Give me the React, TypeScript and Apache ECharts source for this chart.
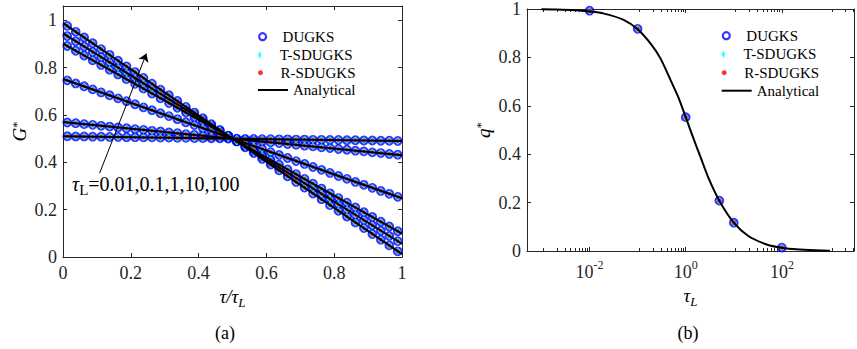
import React, { useEffect, useRef } from 'react';
import * as echarts from 'echarts';

const FONT = 'Liberation Serif';
const AXIS = '#262626';

// ---- panel (a): G* vs tau/tauL ----
const xCells = [0.0125, 0.0375, 0.0625, 0.0875, 0.1125, 0.1375, 0.1625, 0.1875, 0.2125, 0.2375, 0.2625, 0.2875, 0.3125, 0.3375, 0.3625, 0.3875, 0.4125, 0.4375, 0.4625, 0.4875, 0.5125, 0.5375, 0.5625, 0.5875, 0.6125, 0.6375, 0.6625, 0.6875, 0.7125, 0.7375, 0.7625, 0.7875, 0.8125, 0.8375, 0.8625, 0.8875, 0.9125, 0.9375, 0.9625, 0.9875];

const gTau100 = [0.976, 0.951, 0.927, 0.903, 0.878, 0.854, 0.829, 0.805, 0.781, 0.756, 0.732, 0.707, 0.683, 0.659, 0.634, 0.610, 0.586, 0.561, 0.537, 0.512, 0.488, 0.463, 0.439, 0.414, 0.390, 0.366, 0.341, 0.317, 0.293, 0.268, 0.244, 0.219, 0.195, 0.171, 0.146, 0.122, 0.097, 0.073, 0.049, 0.024];
const gTau10 = [0.933, 0.911, 0.889, 0.866, 0.844, 0.822, 0.800, 0.778, 0.755, 0.733, 0.711, 0.689, 0.667, 0.644, 0.622, 0.600, 0.578, 0.556, 0.533, 0.511, 0.489, 0.467, 0.444, 0.422, 0.400, 0.378, 0.356, 0.333, 0.311, 0.289, 0.267, 0.245, 0.222, 0.200, 0.178, 0.156, 0.134, 0.111, 0.089, 0.067];
const gTau5 = [0.891, 0.871, 0.851, 0.831, 0.811, 0.791, 0.771, 0.751, 0.731, 0.711, 0.690, 0.670, 0.650, 0.630, 0.610, 0.590, 0.570, 0.550, 0.530, 0.510, 0.490, 0.470, 0.450, 0.430, 0.410, 0.390, 0.370, 0.350, 0.330, 0.310, 0.289, 0.269, 0.249, 0.229, 0.209, 0.189, 0.169, 0.149, 0.129, 0.109];
const gTau1 = [0.746, 0.733, 0.721, 0.708, 0.695, 0.683, 0.670, 0.658, 0.645, 0.632, 0.620, 0.607, 0.595, 0.582, 0.569, 0.557, 0.544, 0.532, 0.519, 0.506, 0.494, 0.481, 0.468, 0.456, 0.443, 0.431, 0.418, 0.405, 0.393, 0.380, 0.368, 0.355, 0.342, 0.330, 0.317, 0.305, 0.292, 0.279, 0.267, 0.254];
const gTau01 = [0.568, 0.565, 0.561, 0.558, 0.554, 0.551, 0.547, 0.544, 0.540, 0.537, 0.533, 0.530, 0.526, 0.523, 0.519, 0.516, 0.512, 0.509, 0.505, 0.502, 0.498, 0.495, 0.491, 0.488, 0.484, 0.481, 0.477, 0.474, 0.470, 0.467, 0.463, 0.460, 0.456, 0.453, 0.449, 0.446, 0.442, 0.439, 0.435, 0.432];
const gTau001 = [0.510, 0.509, 0.509, 0.508, 0.508, 0.507, 0.507, 0.506, 0.506, 0.505, 0.505, 0.504, 0.504, 0.503, 0.503, 0.502, 0.502, 0.501, 0.501, 0.500, 0.500, 0.499, 0.499, 0.498, 0.498, 0.497, 0.497, 0.496, 0.496, 0.495, 0.495, 0.494, 0.494, 0.493, 0.493, 0.492, 0.492, 0.491, 0.491, 0.490];
const gLines = [gTau100, gTau10, gTau5, gTau1, gTau01, gTau001];

const analyticX = [0, 1];
const analyticStart = [0.988, 0.944, 0.901, 0.752, 0.570, 0.510];
const analyticEnd = [0.012, 0.056, 0.099, 0.248, 0.430, 0.490];

// ---- panel (b): q* vs tauL ----
const tauPts = [0.01, 0.1, 1, 5, 10, 100];
const qPts = [0.993, 0.918, 0.553, 0.208, 0.117, 0.014];
const tauCurve = [0.001, 0.002, 0.005, 0.01, 0.02, 0.05, 0.1, 0.2, 0.3, 0.5, 0.7, 1, 1.5, 2, 3, 5, 10, 20, 50, 100, 200, 500, 1000];
const qCurve = [0.999, 0.998, 0.995, 0.990, 0.981, 0.956, 0.916, 0.849, 0.795, 0.700, 0.636, 0.553, 0.457, 0.392, 0.300, 0.208, 0.117, 0.062, 0.026, 0.0135, 0.0068, 0.0028, 0.0014];

const BLUE = '#0000ff';
const CYAN = '#00ffff';
const RED = '#ff0000';
const DIAMOND = 'path://M2,0L4,4.5L2,9L0,4.5Z';

export default function App() {
  const ref = useRef<HTMLDivElement>(null);
  useEffect(() => {
    document.body.style.margin = '0';
    const chart = echarts.init(ref.current!, null, { renderer: 'svg' });

    const tickLabel = { color: AXIS, fontFamily: FONT, fontSize: 18 };
    const axisLine = { show: true, onZero: false, lineStyle: { color: AXIS, width: 1 } };
    const axisTick = { show: true, inside: true, length: 4, lineStyle: { color: AXIS, width: 1 } };
    const nameRich = {
      i: { fontFamily: FONT, fontSize: 19, fontStyle: 'italic', color: '#000', lineHeight: 22, verticalAlign: 'top' },
      s: { fontFamily: FONT, fontSize: 13, fontStyle: 'italic', color: '#000', lineHeight: 14, verticalAlign: 'bottom' },
      u: { fontFamily: FONT, fontSize: 13, color: '#000', lineHeight: 14, verticalAlign: 'top' },
    };
    const fmtLin = (v: number) =>
      Math.abs(v * 5 - Math.round(v * 5)) < 1e-6 ? String(Math.round(v * 10) / 10) : '';
    const fmtLog = (v: number) => {
      const e = Math.log10(v);
      const r = Math.round(e);
      if (Math.abs(e - r) > 1e-6 || r % 2 !== 0) return '';
      return `{b|10}{s|${r}}`;
    };

    const leftScatter = (arrs: number[][]) =>
      arrs.flatMap((arr) => arr.map((y, i) => [xCells[i], y]));

    const mkLegend = (name: string, left: number, yc: number, icon: string, itemStyle: any, itemHeight: number) => ({
      data: [{ name, icon, itemStyle }],
      left,
      top: yc - 8,
      orient: 'vertical',
      itemWidth: 30,
      itemHeight,
      padding: 0,
      selectedMode: false,
      symbolKeepAspect: true,
      textStyle: { fontFamily: FONT, fontSize: 15, color: '#000', lineHeight: 16 },
    });
    const legendSet = (left: number, ys: number[]) => [
      mkLegend('DUGKS', left, ys[0], 'circle', { color: 'transparent', borderColor: BLUE, borderWidth: 2.2 }, 7),
      mkLegend('T-SDUGKS', left, ys[1], DIAMOND, { color: CYAN, borderWidth: 0 }, 8),
      mkLegend('R-SDUGKS', left, ys[2], 'circle', { color: RED, borderWidth: 0 }, 5),
      mkLegend('Analytical', left, ys[3], 'rect', { color: '#000', borderWidth: 0 }, 2),
    ];

    const analyticSeries = gLines.map((_, k) => ({
      type: 'line',
      name: 'Analytical',
      xAxisIndex: 0,
      yAxisIndex: 0,
      data: analyticX.map((x, j) => [x, j === 0 ? analyticStart[k] : analyticEnd[k]]),
      symbol: 'none',
      lineStyle: { color: '#000', width: 2 },
      itemStyle: { color: '#000' },
      z: 5,
      silent: true,
      ...(k === 0
        ? {
            markLine: {
              silent: true,
              symbol: ['none', 'arrow'],
              symbolSize: 8,
              label: { show: false },
              lineStyle: { color: '#000', width: 1, type: 'solid' },
              emphasis: { disabled: true },
              data: [[{ coord: [0.108, 0.354] }, { coord: [0.246, 0.859] }]],
            },
          }
        : {}),
    }));

    const option: any = {
      animation: false,
      backgroundColor: '#fff',
      textStyle: { fontFamily: FONT },
      grid: [
        { left: 63, top: 6, width: 339, height: 251 },
        { left: 527, top: 7, width: 329, height: 244 },
      ],
      legend: [
        ...legendSet(258, [36.7, 55, 72.7, 90]),
        ...legendSet(721.7, [35.7, 54.3, 72.7, 90.7]),
      ],
      xAxis: [
        {
          type: 'value', gridIndex: 0, min: 0, max: 1, interval: 0.2, position: 'bottom',
          axisLine, axisTick, splitLine: { show: false },
          axisLabel: { ...tickLabel, margin: 7, formatter: fmtLin },
          name: '{i|τ/τ}{s|L}', nameLocation: 'middle', nameGap: 30,
          nameTextStyle: { rich: nameRich },
        },
        {
          type: 'value', gridIndex: 0, min: 0, max: 1, interval: 0.2, position: 'top',
          axisLine, axisTick, splitLine: { show: false }, axisLabel: { show: false },
        },
        {
          type: 'log', logBase: 100, gridIndex: 1, min: 5e-4, max: 3162, position: 'bottom',
          axisLine, axisTick, splitLine: { show: false },
          minorTick: { show: true, splitNumber: 10, length: 3, lineStyle: { color: AXIS } },
          axisLabel: {
            ...tickLabel, margin: 8, formatter: fmtLog,
            rich: {
              b: { fontFamily: FONT, fontSize: 18, color: AXIS, lineHeight: 22, verticalAlign: 'bottom' },
              s: { fontFamily: FONT, fontSize: 12, color: AXIS, lineHeight: 12, verticalAlign: 'top' },
            },
          },
          name: '{i|τ}{s|L}', nameLocation: 'middle', nameGap: 33,
          nameTextStyle: { rich: nameRich },
        },
        {
          type: 'log', logBase: 100, gridIndex: 1, min: 5e-4, max: 3162, position: 'top',
          axisLine, axisTick, splitLine: { show: false }, axisLabel: { show: false },
          minorTick: { show: true, splitNumber: 10, length: 3, lineStyle: { color: AXIS } },
        },
      ],
      yAxis: [
        {
          type: 'value', gridIndex: 0, min: 0, max: 1.06, interval: 0.2, position: 'left',
          axisLine, axisTick, splitLine: { show: false },
          axisLabel: { ...tickLabel, margin: 6, formatter: fmtLin },
          name: '{i|G}{u|*}', nameLocation: 'middle', nameGap: 31, nameRotate: 90,
          nameTextStyle: { rich: nameRich },
        },
        {
          type: 'value', gridIndex: 0, min: 0, max: 1.06, interval: 0.2, position: 'right',
          axisLine, axisTick, splitLine: { show: false }, axisLabel: { show: false },
        },
        {
          type: 'value', gridIndex: 1, min: 0, max: 1, interval: 0.2, position: 'left',
          axisLine, axisTick, splitLine: { show: false },
          axisLabel: { ...tickLabel, margin: 6, formatter: fmtLin },
          name: '{i|q}{u|*}', nameLocation: 'middle', nameGap: 31, nameRotate: 90,
          nameTextStyle: { rich: nameRich },
        },
        {
          type: 'value', gridIndex: 1, min: 0, max: 1, interval: 0.2, position: 'right',
          axisLine, axisTick, splitLine: { show: false }, axisLabel: { show: false },
        },
      ],
      series: [
        {
          type: 'scatter', name: 'DUGKS', xAxisIndex: 0, yAxisIndex: 0,
          data: leftScatter(gLines), symbol: 'circle', symbolSize: 7.5,
          itemStyle: { color: 'transparent', borderColor: BLUE, borderWidth: 2.2 }, z: 2, silent: true,
        },
        {
          type: 'scatter', name: 'T-SDUGKS', xAxisIndex: 0, yAxisIndex: 0,
          data: leftScatter(gLines), symbol: DIAMOND, symbolSize: [6, 8],
          itemStyle: { color: CYAN }, z: 3, silent: true,
        },
        {
          type: 'scatter', name: 'R-SDUGKS', xAxisIndex: 0, yAxisIndex: 0,
          data: leftScatter(gLines), symbol: 'circle', symbolSize: 4,
          itemStyle: { color: RED }, z: 4, silent: true,
        },
        ...analyticSeries,
        {
          type: 'scatter', name: 'DUGKS', xAxisIndex: 2, yAxisIndex: 2,
          data: tauPts.map((t, i) => [t, qPts[i]]), symbol: 'circle', symbolSize: 7.5,
          itemStyle: { color: 'transparent', borderColor: BLUE, borderWidth: 2.2 }, z: 2, silent: true,
        },
        {
          type: 'scatter', name: 'T-SDUGKS', xAxisIndex: 2, yAxisIndex: 2,
          data: tauPts.map((t, i) => [t, qPts[i]]), symbol: DIAMOND, symbolSize: [6, 8],
          itemStyle: { color: CYAN }, z: 3, silent: true,
        },
        {
          type: 'scatter', name: 'R-SDUGKS', xAxisIndex: 2, yAxisIndex: 2,
          data: tauPts.map((t, i) => [t, qPts[i]]), symbol: 'circle', symbolSize: 4.5,
          itemStyle: { color: RED }, z: 4, silent: true,
        },
        {
          type: 'line', name: 'Analytical', xAxisIndex: 2, yAxisIndex: 2,
          data: tauCurve.map((t, i) => [t, qCurve[i]]), symbol: 'none', smooth: 0.3,
          lineStyle: { color: '#000', width: 2 }, itemStyle: { color: '#000' }, z: 5, silent: true,
        },
      ],
      graphic: [
        {
          type: 'text', left: 72, top: 174, silent: true,
          style: {
            text: '{t|τ}{sub|L}{n|=0.01,0.1,1,10,100}',
            rich: {
              t: { fontFamily: FONT, fontSize: 20, fontStyle: 'italic', fill: '#000', lineHeight: 23, verticalAlign: 'top' },
              sub: { fontFamily: FONT, fontSize: 15, fill: '#000', lineHeight: 15, verticalAlign: 'bottom' },
              n: { fontFamily: FONT, fontSize: 20, fill: '#000', lineHeight: 23, verticalAlign: 'top' },
            },
          },
        },
        {
          type: 'text', x: 225, y: 333, silent: true,
          style: { text: '(a)', fontFamily: FONT, fontSize: 18, fill: '#000', align: 'center', verticalAlign: 'middle' },
        },
        {
          type: 'text', x: 688, y: 333, silent: true,
          style: { text: '(b)', fontFamily: FONT, fontSize: 18, fill: '#000', align: 'center', verticalAlign: 'middle' },
        },
      ],
    };

    chart.setOption(option);
    return () => chart.dispose();
  }, []);
  return <div ref={ref} style={{ width: 857, height: 349 }} />;
}
